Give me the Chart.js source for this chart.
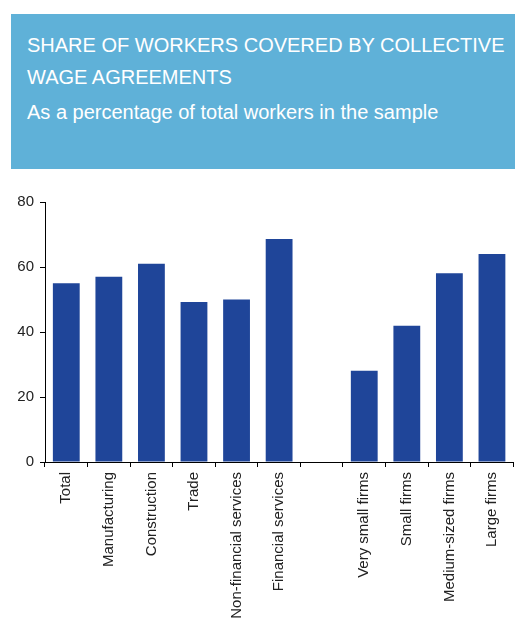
<!DOCTYPE html>
<html>
<head>
<meta charset="utf-8">
<script src="https://cdn.jsdelivr.net/npm/chart.js@4/dist/chart.umd.min.js"></script>
<style>
  html, body { margin: 0; padding: 0; background: #fff; }
  body { width: 515px; height: 621px; position: relative; overflow: hidden; font-family: "Liberation Sans", Arial, sans-serif; }
  .header { position: absolute; left: 11px; top: 14px; width: 504px; height: 155px; background: #5fb1d8; color: #fff; }
  .header .title { position: absolute; left: 16px; top: 15px; font-size: 20px; line-height: 32px; }
  .header .sub { position: absolute; left: 16px; top: 82px; font-size: 20px; line-height: 32px; }
  #wrap { position: absolute; left: 0; top: 187px; width: 515px; height: 434px; }
</style>
</head>
<body>
<div class="header">
  <div class="title">SHARE OF WORKERS COVERED BY COLLECTIVE<br>WAGE AGREEMENTS</div>
  <div class="sub">As a percentage of total workers in the sample</div>
</div>
<div id="wrap"><canvas id="chart"></canvas></div>
<script>
// categories (the blank one separates sectors from firm sizes)
const categories = [
  'Total', 'Manufacturing', 'Construction', 'Trade', 'Non-financial services',
  'Financial services', '', 'Very small firms', 'Small firms', 'Medium-sized firms', 'Large firms'
];
const shares = [55, 57, 61, 49.2, 50, 68.6, null, 28.1, 41.9, 58.1, 64];
const yTicks = [0, 20, 40, 60, 80];

const BAR_COLOR = '#1f4599';
const TEXT_COLOR = '#222';

const ctx = document.getElementById('chart').getContext('2d');
new Chart(ctx, {
  type: 'bar',
  data: {
    labels: categories,
    datasets: [{
      data: shares,
      backgroundColor: BAR_COLOR,
      borderWidth: 0,
      barPercentage: 0.63,
      categoryPercentage: 1
    }]
  },
  options: {
    responsive: true,
    maintainAspectRatio: false,
    animation: false,
    layout: { padding: { top: 8, right: 1, left: 0, bottom: 0 } },
    plugins: { legend: { display: false }, tooltip: { enabled: false } },
    scales: {
      x: {
        offset: true,
        grid: { offset: true, drawOnChartArea: false, drawTicks: true, tickLength: 5, color: '#000' },
        border: { color: '#000', width: 1 },
        ticks: {
          color: TEXT_COLOR,
          font: { family: 'Liberation Sans', size: 15 },
          maxRotation: 90, minRotation: 90,
          autoSkip: false,
          padding: 5
        },
        afterFit: (scale) => { scale.height = 159; }
      },
      y: {
        min: 0, max: 80,
        afterBuildTicks: (scale) => { scale.ticks = yTicks.map(v => ({ value: v })); },
        grid: { drawOnChartArea: false, drawTicks: true, tickLength: 5, color: '#000' },
        border: { color: '#000', width: 1 },
        ticks: {
          color: TEXT_COLOR,
          font: { family: 'Liberation Sans', size: 15 },
          padding: 6
        },
        afterFit: (scale) => { scale.width = 45; }
      }
    }
  }
});
</script>
</body>
</html>
